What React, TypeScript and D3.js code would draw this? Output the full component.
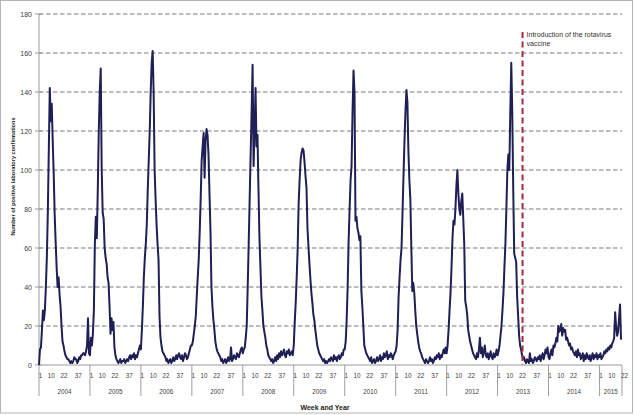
import React from 'react';
import * as d3 from 'd3';

const cases2004 = [0, 8, 9, 18, 28, 23, 28, 40, 55, 78, 110, 142, 125,
  134, 115, 98, 77, 63, 50, 40, 45, 36, 30, 20, 12, 10,
  7, 5, 4, 3, 3, 2, 1, 2, 1, 2, 4, 3, 3,
  1, 2, 4, 3, 5, 5, 6, 6, 5, 7, 10, 24, 6];
const cases2005 = [5, 14, 10, 16, 28, 62, 76, 65, 90, 120, 140, 152, 100,
  78, 75, 60, 55, 52, 45, 42, 30, 16, 24, 18, 22, 9,
  5, 3, 2, 1, 2, 3, 1, 2, 2, 3, 1, 2, 3,
  2, 4, 5, 3, 5, 4, 6, 3, 5, 4, 6, 8, 10];
const cases2006 = [8, 18, 30, 45, 55, 62, 72, 90, 105, 120, 140, 155, 161,
  140, 100, 85, 72, 62, 54, 25, 14, 10, 7, 6, 5, 4,
  2, 3, 1, 2, 3, 1, 2, 4, 2, 3, 5, 3, 5,
  6, 4, 3, 5, 2, 4, 6, 5, 3, 4, 6, 8, 10];
const cases2007 = [10, 12, 16, 20, 25, 35, 45, 54, 68, 85, 105, 112, 119,
  96, 115, 121, 118, 108, 88, 69, 40, 30, 23, 18, 12, 9,
  7, 6, 5, 4, 2, 3, 1, 2, 3, 1, 2, 4, 2,
  3, 9, 2, 3, 5, 4, 3, 6, 5, 4, 6, 8, 9];
const cases2008 = [6, 8, 9, 14, 20, 40, 62, 85, 108, 130, 154, 102, 120,
  142, 112, 118, 90, 65, 50, 35, 28, 20, 17, 14, 10, 8,
  5, 4, 3, 2, 3, 1, 2, 4, 2, 5, 3, 6, 4,
  7, 5, 6, 8, 5, 4, 7, 6, 8, 5, 6, 7, 5];
const cases2009 = [10, 22, 32, 45, 60, 83, 95, 105, 109, 111, 110, 104, 97,
  91, 70, 61, 52, 44, 37, 32, 26, 23, 18, 14, 10, 8,
  6, 5, 4, 3, 2, 3, 1, 2, 1, 2, 3, 2, 4,
  3, 2, 5, 3, 4, 2, 4, 5, 3, 4, 6, 5, 8];
const cases2010 = [8, 12, 23, 40, 64, 80, 95, 102, 130, 151, 140, 74, 76,
  70, 68, 64, 66, 38, 30, 20, 10, 8, 6, 5, 4, 3,
  2, 4, 1, 2, 3, 1, 2, 4, 2, 3, 5, 2, 4,
  3, 6, 4, 5, 7, 3, 5, 4, 6, 5, 3, 5, 6];
const cases2011 = [7, 10, 18, 35, 45, 54, 60, 78, 97, 115, 130, 141, 135,
  110, 95, 85, 60, 38, 42, 37, 28, 20, 16, 12, 9, 7,
  6, 4, 3, 2, 1, 3, 2, 1, 2, 4, 2, 3, 1,
  2, 4, 3, 5, 4, 6, 3, 5, 4, 6, 8, 6, 9];
const cases2012 = [6, 10, 18, 28, 37, 50, 65, 74, 72, 80, 92, 100, 88,
  80, 77, 84, 88, 75, 62, 33, 30, 26, 18, 15, 12, 10,
  8, 6, 5, 4, 3, 6, 4, 8, 14, 6, 9, 4, 7,
  10, 5, 4, 6, 3, 5, 7, 4, 3, 6, 4, 5, 8];
const cases2013 = [5, 7, 10, 15, 20, 28, 37, 50, 62, 80, 100, 108, 100,
  130, 155, 130, 90, 57, 55, 53, 35, 25, 15, 10, 8, 5,
  3, 4, 2, 1, 3, 2, 1, 6, 2, 3, 1, 2, 4,
  3, 2, 4, 3, 5, 2, 4, 6, 3, 5, 8, 6, 9];
const cases2014 = [4, 3, 6, 8, 5, 10, 9, 11, 14, 12, 20, 17, 18,
  21, 15, 19, 17, 18, 13, 14, 12, 10, 11, 8, 9, 7,
  6, 5, 7, 4, 8, 5, 6, 3, 4, 6, 2, 5, 3,
  6, 4, 3, 5, 2, 4, 6, 3, 5, 4, 6, 3, 5];
const cases2015 = [4, 6, 3, 4, 5, 7, 6, 8, 7, 9, 8, 10, 9, 11, 12, 14, 27, 20, 15, 17, 24, 31, 13];

const years = ['2004', '2005', '2006', '2007', '2008', '2009', '2010', '2011', '2012', '2013', '2014', '2015'];
const seasons = [cases2004, cases2005, cases2006, cases2007, cases2008, cases2009,
  cases2010, cases2011, cases2012, cases2013, cases2014, cases2015];
const weekLabels = ['1', '10', '22', '37'];
const yTicks = [0, 20, 40, 60, 80, 100, 120, 140, 160, 180];
const vaccineYear = '2013';
const vaccineWeek = 26;

const W = 634;
const H = 415;
const left = 39, right = 622, top = 14, bottom = 365;
// where Excel placed the week labels inside each year band (in weeks)
const labelOffsets = [1.5, 12.5, 25.5, 40];

export default function App() {
  const series = seasons.flat();
  const starts: number[] = [];
  let acc = 0;
  seasons.forEach((s) => { starts.push(acc); acc += s.length; });
  const total = acc;

  const x = d3.scaleLinear().domain([0, total]).range([left, right]);
  const y = d3.scaleLinear().domain([0, 180]).range([bottom, top]);

  const line = d3.line<number>().x((d, i) => x(i)).y((d) => y(d));

  const vIdx = starts[years.indexOf(vaccineYear)] + vaccineWeek - 0.5;
  const font = '"Liberation Sans", Arial, sans-serif';

  return (
    <svg width={W} height={H} style={{ position: 'absolute', left: 0, top: 0, background: '#fff' }} fontFamily={font}>
      <rect x={0.5} y={0.5} width={632} height={412.5} fill="#fff" stroke="#b4b4b4" strokeWidth={1} />

      {yTicks.filter((t) => t > 0).map((t) => (
        <line key={'g' + t} x1={left} x2={right} y1={y(t)} y2={y(t)}
          stroke="#7a7a7a" strokeWidth={1.2} strokeDasharray="4.5,2.5" />
      ))}

      {yTicks.map((t) => (
        <g key={'t' + t}>
          <line x1={left - 4} x2={left + 3} y1={y(t)} y2={y(t)} stroke="#9a9a9a" />
          <text x={32} y={y(t) + 2.5} fontSize={7} fill="#404040" textAnchor="end">{t}</text>
        </g>
      ))}

      <line x1={left} x2={left} y1={top} y2={bottom} stroke="#9a9a9a" />
      <line x1={left} x2={right} y1={bottom} y2={bottom} stroke="#9a9a9a" />

      {starts.map((s, k) => (
        <line key={'s' + k} x1={x(s)} x2={x(s)} y1={bottom} y2={396} stroke="#a0a0a0" />
      ))}
      <line x1={x(total)} x2={x(total)} y1={bottom} y2={396} stroke="#a0a0a0" />

      {years.map((yr, k) => {
        const s = starts[k];
        const len = seasons[k].length;
        return (
          <g key={yr}>
            {weekLabels.map((w, j) => (labelOffsets[j] < len + 4 ? (
              <text key={w} x={x(s + labelOffsets[j])} y={378} fontSize={6.3} fill="#404040" textAnchor="middle">{w}</text>
            ) : null))}
            <text x={(x(s) + x(s + len)) / 2} y={394} fontSize={6.3} fill="#404040" textAnchor="middle">{yr}</text>
          </g>
        );
      })}

      <path d={line(series) || ''} fill="none" stroke="#1f1f55" strokeWidth={2} strokeLinejoin="round" />

      <line x1={x(vIdx)} x2={x(vIdx)} y1={32} y2={bottom} stroke="#a8283f" strokeWidth={2} strokeDasharray="6,3.5" />
      <text x={x(vIdx) + 4} y={37} fontSize={7} fill="#333">Introduction of the rotavirus</text>
      <text x={x(vIdx) + 4} y={46} fontSize={7} fill="#333">vaccine</text>

      <text x={325} y={410} fontSize={7} fontWeight="bold" fill="#222" textAnchor="middle">Week and Year</text>
      <text transform={`translate(15,${(top + bottom) / 2 - 13}) rotate(-90)`} fontSize={5.6} fontWeight="bold" fill="#222" textAnchor="middle">
        Number of positive laboratory confirmations
      </text>
    </svg>
  );
}
